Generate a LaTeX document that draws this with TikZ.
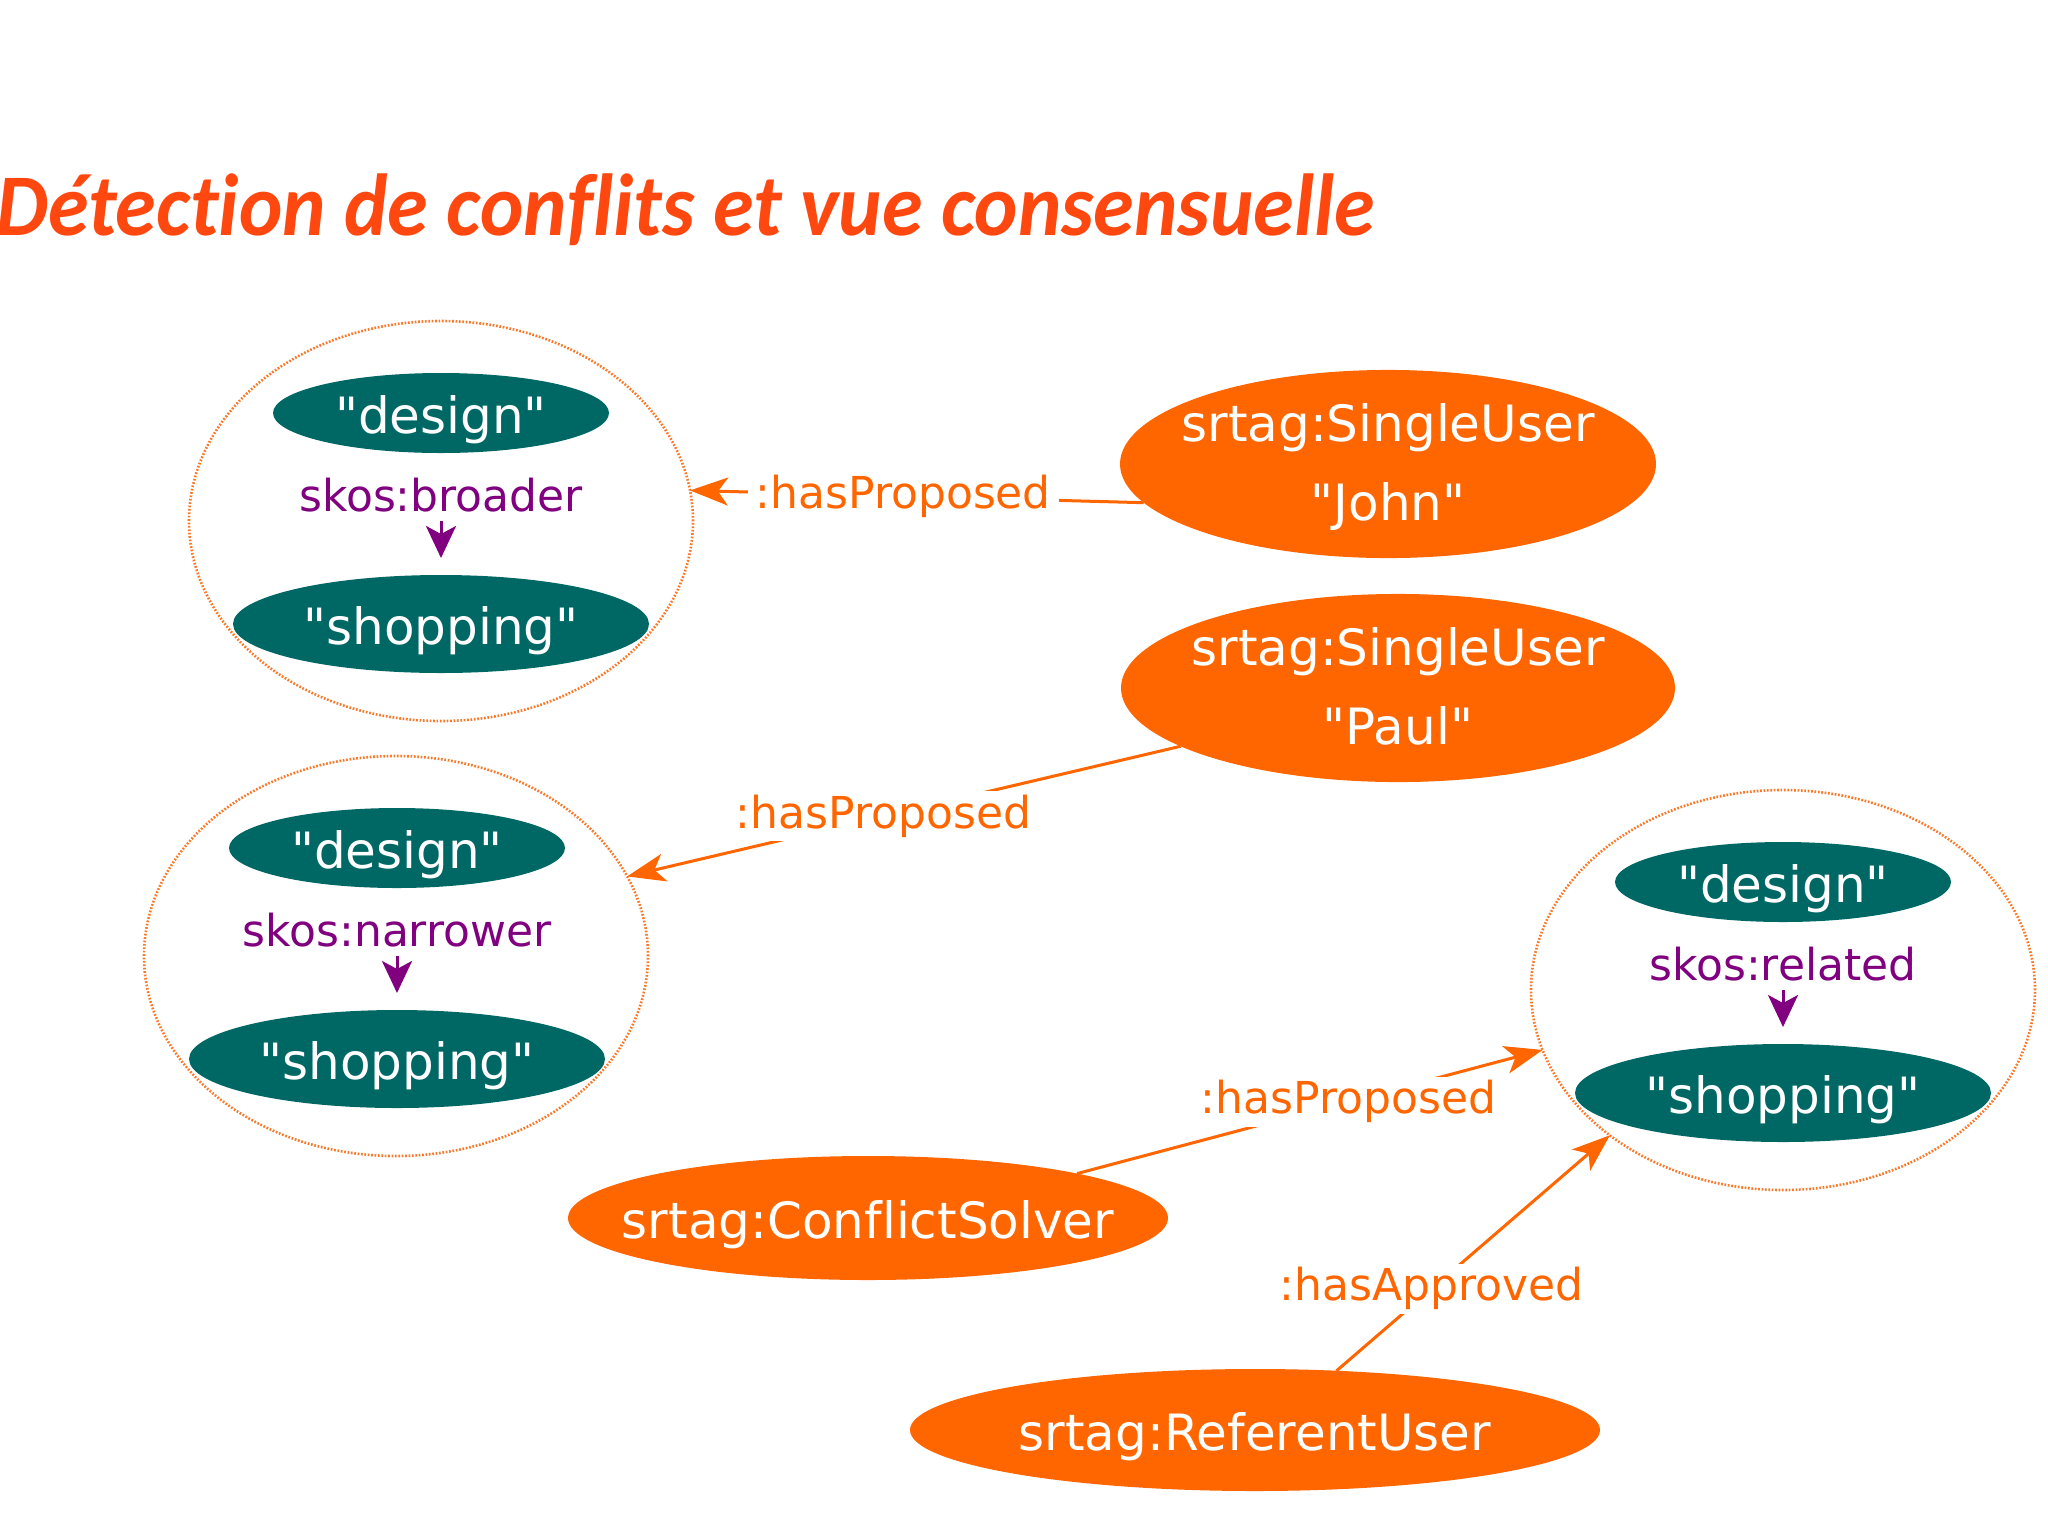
\documentclass[tikz,border=0pt]{standalone}
\usepackage{graphicx}
\usepackage{fontspec}
\setmainfont{DejaVu Sans}[Ligatures={TeXOff,CommonOff}]
\newfontfamily\titlefont{Carlito}[Ligatures=CommonOff]
\usetikzlibrary{shapes.geometric,arrows.meta}
\definecolor{cteal}{RGB}{0,104,100}
\definecolor{corange}{RGB}{255,102,0}
\definecolor{cpurple}{RGB}{128,0,128}
\definecolor{ctitle}{RGB}{255,72,16}
\definecolor{cdot}{RGB}{250,120,40}
\newcommand{\zw}[1]{\makebox[0pt][c]{#1}}
\tikzset{
  groupell/.style={ellipse, draw=cdot, line width=2.6pt, dash pattern=on 1.7pt off 1.7pt,
    minimum width=504pt, minimum height=400pt, inner sep=0pt, outer sep=0pt},
  tealell/.style={ellipse, fill=cteal, text=white, font=\fontsize{50}{60}\selectfont,
    inner sep=0pt, outer sep=0pt, text height=40pt, text depth=0pt},
  designell/.style={tealell, minimum width=336pt, minimum height=80pt},
  shopell/.style={tealell, minimum width=416pt, minimum height=98pt},
  orangeell/.style={ellipse, fill=corange, text=white, font=\fontsize{50}{60}\selectfont,
    inner sep=0pt, outer sep=0pt, text height=40pt, text depth=0pt},
  userell/.style={ellipse, fill=corange, text=white, inner sep=0pt, outer sep=0pt,
    align=center, font=\fontsize{50}{79}\selectfont},
  rellabel/.style={font=\fontsize{44}{50}\selectfont, text height=34pt, text depth=10pt, inner sep=0pt},
  skoslabel/.style={rellabel, text=cpurple},
  proplabel/.style={rellabel, text=corange, fill=white, inner xsep=8pt, inner ysep=3pt},
  skosarrow/.style={draw=cpurple, line width=3pt, -{Stealth[length=32pt,width=30pt,inset=8pt]}, shorten >=17pt},
  proparrow/.style={draw=corange, line width=3pt, -{Stealth[length=38pt,width=28pt,inset=10pt]}},
}
\begin{document}
\begin{tikzpicture}[x=1pt,y=-1pt]
\useasboundingbox[fill=white] (0,0) rectangle (2048,1535);

% title
\node[anchor=base west, inner sep=0pt, text=ctitle,
  font=\titlefont\bfseries\itshape\fontsize{88}{100}\selectfont] (title) at (-4,235)
  {\scalebox{0.936}[1]{Détection de conflits et vue consensuelle}};

% groups
\node[groupell] (g1) at (441,521) {};
\node[groupell] (g2) at (396,956) {};
\node[groupell] (g3) at (1783,990) {};

\node[designell] (d1) at (441,413) {\zw{"design"}};
\node[shopell]   (s1) at (441,624) {\zw{"shopping"}};
\node[designell] (d2) at (397,848) {\zw{"design"}};
\node[shopell]   (s2) at (397,1059) {\zw{"shopping"}};
\node[designell] (d3) at (1783,882) {\zw{"design"}};
\node[shopell]   (s3) at (1783,1093) {\zw{"shopping"}};

\node[skoslabel] (l1) at (441,499) {skos:broader};
\node[skoslabel] (l2) at (397,934) {skos:narrower};
\node[skoslabel] (l3) at (1783,968) {skos:related};
\draw[skosarrow] (l1) -- (s1);
\draw[skosarrow] (l2) -- (s2);
\draw[skosarrow] (l3) -- (s3);

% users
\node[userell, minimum width=536pt, minimum height=178pt] (john) at (1388,464)
  {\zw{\rule{0pt}{44pt}srtag:SingleUser}\\\zw{\rule[-10pt]{0pt}{10pt}"John"}};
\node[userell, minimum width=554pt, minimum height=180pt] (paul) at (1398,688)
  {\zw{\rule{0pt}{44pt}srtag:SingleUser}\\\zw{\rule[-10pt]{0pt}{10pt}"Paul"}};
\node[orangeell, minimum width=600pt, minimum height=124pt] (cs) at (868,1218) {\zw{srtag:ConflictSolver}};
\node[orangeell, minimum width=690pt, minimum height=122pt] (ref) at (1255,1430) {\zw{srtag:ReferentUser}};

% connectors
\draw[proparrow] (john.189) -- node[proplabel, pos=0.53] (p1) {:hasProposed} (g1.7);
\draw[proparrow] (paul.195) -- node[proplabel, pos=0.537] (p2) {:hasProposed} (g2.19);
\draw[proparrow] (cs.12) -- node[proplabel, pos=0.583] (p3) {:hasProposed} (g3.194);
\draw[proparrow] (ref.36) -- node[proplabel, pos=0.348] (p4) {:hasApproved} (g3.220);
\end{tikzpicture}
\end{document}
